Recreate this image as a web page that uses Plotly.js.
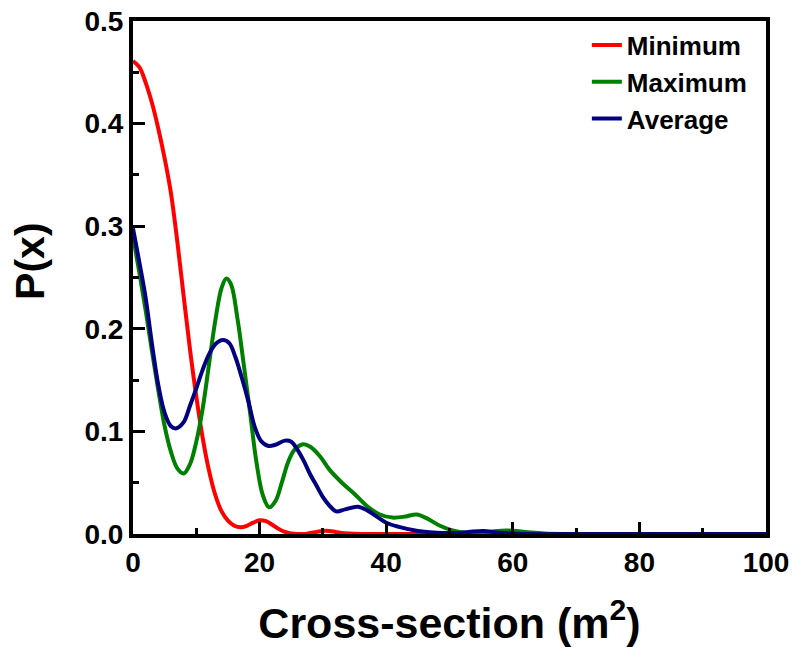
<!DOCTYPE html>
<html>
<head>
<meta charset="utf-8">
<script src="https://cdn.plot.ly/plotly-3.0.1.min.js"></script>
<style>html,body{margin:0;padding:0;background:#fff;}#chart{width:797px;height:653px;}</style>
</head>
<body>
<div id="chart"></div>
<script>
// Minimum
const minX = [0, 1, 2, 3, 4, 5, 6, 7, 8, 9, 10, 11, 12, 13, 14, 15, 16, 17, 18, 19, 20, 21, 22, 23, 24, 25, 26, 27, 28, 29, 30, 31, 32, 33, 35, 37, 45, 60, 80, 100];
const minY = [0.461, 0.455, 0.44, 0.42, 0.395, 0.366, 0.332, 0.285, 0.232, 0.18, 0.134, 0.094, 0.062, 0.038, 0.022, 0.013, 0.008, 0.0065, 0.008, 0.011, 0.0133, 0.0125, 0.009, 0.005, 0.002, 0.0005, 0, 0, 0.001, 0.002, 0.003, 0.003, 0.002, 0.001, 0.0003, 0, 0, 0, 0, 0];
// Maximum
const maxX = [0, 1, 2, 3, 4, 5, 6, 7, 8, 9, 10, 11, 12, 13, 14, 14.75, 15.5, 16.5, 17.5, 18.5, 19.5, 20.5, 21.5, 22.5, 23.5, 24.5, 25.5, 26.9, 28, 29.5, 31, 33, 35, 37, 39, 41, 43, 44.8, 46.5, 48.5, 50.5, 53, 56, 59, 62, 65, 70, 80, 90, 100];
const maxY = [0.29, 0.255, 0.218, 0.178, 0.14, 0.105, 0.08, 0.064, 0.059, 0.068, 0.09, 0.122, 0.165, 0.208, 0.24, 0.249, 0.243, 0.21, 0.165, 0.118, 0.07, 0.038, 0.026, 0.032, 0.05, 0.07, 0.082, 0.0875, 0.085, 0.076, 0.063, 0.05, 0.039, 0.027, 0.019, 0.016, 0.017, 0.019, 0.015, 0.008, 0.0035, 0.001, 0.002, 0.0035, 0.002, 0.0005, 0, 0, 0, 0];
// Average
const avgX = [0, 1, 2, 3, 4, 5, 6, 6.85, 8, 9, 10, 11, 12, 13, 14.2, 15.2, 16.2, 17.2, 18.2, 19.2, 20.2, 21.3, 22.5, 24, 25, 26, 27, 28, 29, 30, 31, 32.1, 33.5, 35.5, 37, 38.5, 40, 42, 45, 48, 51, 53, 55.3, 58, 62, 70, 80, 90, 100];
const avgY = [0.298, 0.265, 0.23, 0.185, 0.145, 0.118, 0.105, 0.103, 0.109, 0.125, 0.142, 0.16, 0.175, 0.185, 0.189, 0.186, 0.172, 0.152, 0.13, 0.105, 0.091, 0.086, 0.087, 0.091, 0.09, 0.082, 0.071, 0.058, 0.047, 0.036, 0.028, 0.022, 0.024, 0.0265, 0.023, 0.017, 0.011, 0.007, 0.003, 0.0012, 0.001, 0.002, 0.003, 0.0012, 0, 0, 0, 0, 0];

const seriesNames = ['Minimum', 'Maximum', 'Average'];
const seriesColors = ['#ff0000', '#008000', '#000080'];
const xs = [minX, maxX, avgX];
const ys = [minY, maxY, avgY];

const FONT = 'Liberation Sans, Arial, sans-serif';

const traces = seriesNames.map((n, i) => ({
  type: 'scatter', mode: 'lines', name: n,
  x: xs[i], y: ys[i],
  line: {color: seriesColors[i], width: 4, shape: 'spline', smoothing: 1},
  cliponaxis: true
}));

const axisCommon = {
  showline: true, linecolor: '#000', linewidth: 4, mirror: true,
  ticks: 'inside', tickwidth: 3, tickcolor: '#000', ticklen: 12,
  showgrid: false, zeroline: false,
  tickfont: {family: FONT, size: 28, color: '#000', weight: 'bold'}
};

const layout = {
  width: 797, height: 653,
  margin: {l: 133, r: 31, t: 21, b: 119},
  paper_bgcolor: '#fff', plot_bgcolor: '#fff',
  showlegend: true,
  legend: {
    x: 0.717, y: 0.999, xanchor: 'left', yanchor: 'top',
    bgcolor: 'rgba(0,0,0,0)', borderwidth: 0,
    font: {family: FONT, size: 26, color: '#000', weight: 'bold'}
  },
  xaxis: Object.assign({}, axisCommon, {
    range: [0, 100], tickvals: [0, 20, 40, 60, 80, 100],
    minor: {tickvals: [10, 30, 50, 70, 90], ticks: 'inside', ticklen: 6, tickwidth: 3, tickcolor: '#000'},
    title: {text: '<b>Cross-section (m<sup>2</sup>)</b>', font: {family: FONT, size: 43, color: '#000'}, standoff: 32}
  }),
  yaxis: Object.assign({}, axisCommon, {
    range: [0, 0.5], tickvals: [0, 0.1, 0.2, 0.3, 0.4, 0.5], tickformat: '.1f',
    minor: {tickvals: [0.05, 0.15, 0.25, 0.35, 0.45], ticks: 'inside', ticklen: 6, tickwidth: 3, tickcolor: '#000'}
  }),
  annotations: [{
    text: '<b>P(x)</b>', textangle: -90, showarrow: false,
    xref: 'paper', yref: 'paper', x: -0.163, y: 0.532, xanchor: 'center', yanchor: 'middle',
    font: {family: FONT, size: 41, color: '#000'}
  }]
};

Plotly.newPlot('chart', traces, layout, {displayModeBar: false, staticPlot: true});
</script>
</body>
</html>
